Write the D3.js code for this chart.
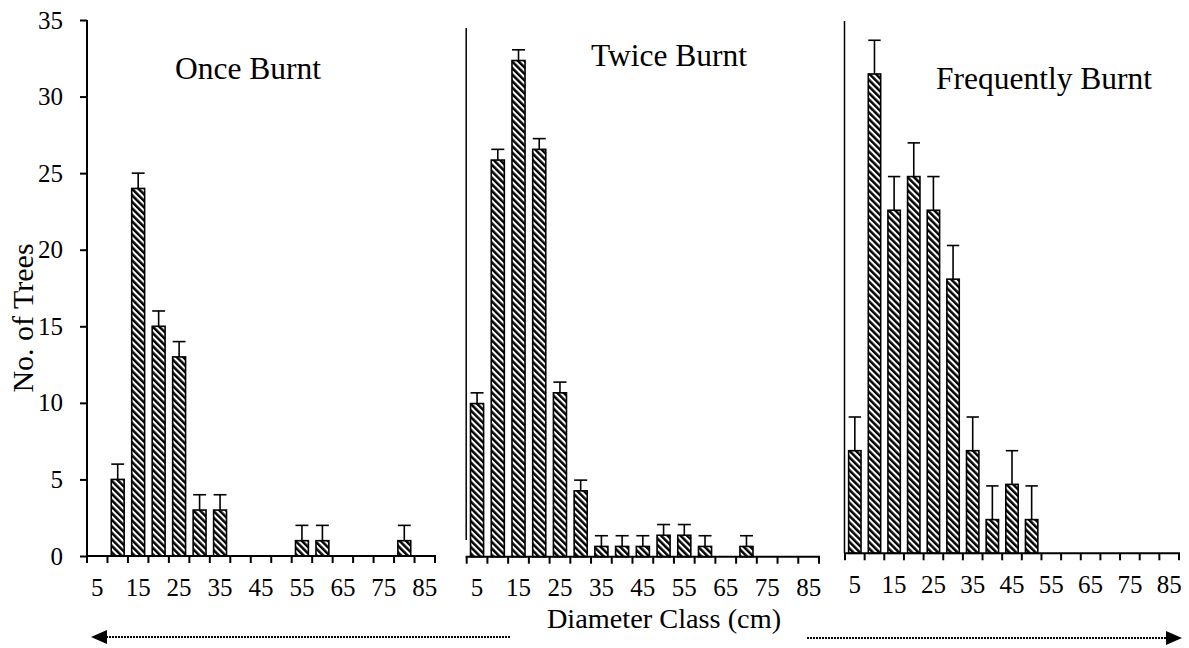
<!DOCTYPE html>
<html lang="en">
<head>
  <meta charset="UTF-8">
  <title>Diameter Class Distribution</title>
  <script src="https://d3js.org/d3.v7.min.js"></script>
  <style>
    body { margin: 0; background: #fff; }
    text { font-family: "Liberation Serif", "Times New Roman", serif; fill: #000; }
    .bar { stroke: #000; stroke-width: 1.6px; }
    .err { stroke: #000; stroke-width: 1.6px; fill: none; }
    .axis-line { stroke: #000; stroke-width: 2px; }
  </style>
</head>
<body>
  <svg width="1189" height="648"></svg>
  <script>
// diameter classes (cm)
const classes = [5, 10, 15, 20, 25, 30, 35, 40, 45, 50, 55, 60, 65, 70, 75, 80, 85];
const tickLabels = [5, 15, 25, 35, 45, 55, 65, 75, 85];
const yTicks = [0, 5, 10, 15, 20, 25, 30, 35];

const onceVals  = [0, 5, 24, 15, 13, 3, 3, 0, 0, 0, 1, 1, 0, 0, 0, 1, 0];
const onceErr   = [0, 1, 1, 1, 1, 1, 1, 0, 0, 0, 1, 1, 0, 0, 0, 1, 0];
const twiceVals = [10, 25.9, 32.4, 26.6, 10.7, 4.3, 0.67, 0.67, 0.67, 1.4, 1.4, 0.67, 0, 0.67, 0, 0, 0];
const twiceErr  = [0.7, 0.7, 0.7, 0.7, 0.7, 0.7, 0.7, 0.7, 0.7, 0.7, 0.7, 0.7, 0, 0.7, 0, 0, 0];
const freqVals  = [6.7, 31.3, 22.4, 24.6, 22.4, 17.9, 6.7, 2.2, 4.5, 2.2, 0, 0, 0, 0, 0, 0, 0];
const freqErr   = [2.2, 2.2, 2.2, 2.2, 2.2, 2.2, 2.2, 2.2, 2.2, 2.2, 0, 0, 0, 0, 0, 0, 0];

const titles = ["Once Burnt", "Twice Burnt", "Frequently Burnt"];

const svg = d3.select("svg");

// diagonal hatch
const defs = svg.append("defs");
const pat = defs.append("pattern")
  .attr("id", "hatch")
  .attr("patternUnits", "userSpaceOnUse")
  .attr("width", 4.6)
  .attr("height", 4.6)
  .attr("patternTransform", "rotate(-45)");
pat.append("rect").attr("width", 4.6).attr("height", 4.6).attr("fill", "#fff");
pat.append("rect").attr("width", 2.5).attr("height", 4.6).attr("fill", "#000");

const unit = 536 / 35;

const panels = [
  { vals: onceVals, err: onceErr, x0: 87, x1: 435, base: 556, yAxis: true,
    title: titles[0], tx: 248, ty: 79 },
  { vals: twiceVals, err: twiceErr, x0: 466.7, x1: 819, base: 556.7, vline: [28, 540],
    title: titles[1], tx: 669, ty: 66 },
  { vals: freqVals, err: freqErr, x0: 845, x1: 1179, base: 553.3, vline: [21, 553.3],
    title: titles[2], tx: 1044, ty: 89 }
];

panels.forEach(p => {
  const g = svg.append("g");
  const x = d3.scaleBand().domain(classes).range([p.x0, p.x1]);
  const y = d3.scaleLinear().domain([0, 35]).range([p.base, p.base - 35 * unit]);
  const bw = x.bandwidth() * 0.63;

  const data = classes.map((c, i) => ({ c, v: p.vals[i], e: p.err[i] })).filter(d => d.v > 0);

  g.selectAll(".bar").data(data).enter().append("rect")
    .attr("class", "bar")
    .attr("fill", "url(#hatch)")
    .attr("x", d => x(d.c) + (x.bandwidth() - bw) / 2)
    .attr("width", bw)
    .attr("y", d => y(d.v))
    .attr("height", d => y(0) - y(d.v));

  const eg = g.selectAll(".errg").data(data).enter().append("g");
  eg.append("line").attr("class", "err")
    .attr("x1", d => x(d.c) + x.bandwidth() / 2)
    .attr("x2", d => x(d.c) + x.bandwidth() / 2)
    .attr("y1", d => y(d.v))
    .attr("y2", d => y(d.v + d.e));
  eg.append("line").attr("class", "err")
    .attr("x1", d => x(d.c) + (x.bandwidth() - bw) / 2)
    .attr("x2", d => x(d.c) + (x.bandwidth() + bw) / 2)
    .attr("y1", d => y(d.v + d.e))
    .attr("y2", d => y(d.v + d.e));

  // x axis: labels at band centres, ticks at band edges
  const xa = g.append("g")
    .attr("transform", `translate(0,${p.base})`)
    .call(d3.axisBottom(x).tickValues(tickLabels).tickSize(0).tickPadding(22));
  xa.select(".domain").remove();
  xa.selectAll("text").style("font-size", "25px").style("font-family", "Liberation Serif, Times New Roman, serif");

  const edges = classes.map(c => x(c)).concat([p.x1]);
  g.selectAll(".xt").data(edges).enter().append("line")
    .attr("class", "axis-line")
    .attr("x1", d => d).attr("x2", d => d)
    .attr("y1", p.base).attr("y2", p.base + 7);
  g.append("line").attr("class", "axis-line")
    .attr("x1", p.x0 - 1).attr("x2", p.x1 + 1)
    .attr("y1", p.base).attr("y2", p.base);

  if (p.yAxis) {
    const ya = g.append("g")
      .attr("transform", `translate(${p.x0},0)`)
      .call(d3.axisLeft(y).tickValues(yTicks).tickSize(7).tickPadding(17));
    ya.select(".domain").attr("stroke-width", 2).attr("d", `M0,${y(35)}V${y(0)}`);
    ya.selectAll(".tick line").attr("stroke-width", 2);
    ya.selectAll("text").style("font-size", "25px").style("font-family", "Liberation Serif, Times New Roman, serif");
  }
  if (p.vline) {
    g.append("line")
      .attr("stroke", "#000").attr("stroke-width", 1.5)
      .attr("x1", p.x0 - 0.5).attr("x2", p.x0 - 0.5)
      .attr("y1", p.vline[0]).attr("y2", p.vline[1]);
  }

  g.append("text")
    .attr("x", p.tx).attr("y", p.ty)
    .attr("text-anchor", "middle")
    .style("font-size", "31.5px")
    .text(p.title);
});

// axis titles
svg.append("text")
  .attr("transform", "translate(33,318) rotate(-90)")
  .attr("text-anchor", "middle")
  .style("font-size", "30px")
  .text("No. of Trees");

svg.append("text")
  .attr("x", 664).attr("y", 628)
  .attr("text-anchor", "middle")
  .style("font-size", "28.3px")
  .text("Diameter Class (cm)");

// dotted arrows
defs.append("marker")
  .attr("id", "head")
  .attr("viewBox", "0 0 16 14")
  .attr("refX", 0).attr("refY", 7)
  .attr("markerWidth", 16).attr("markerHeight", 14)
  .attr("markerUnits", "userSpaceOnUse")
  .attr("orient", "auto")
  .append("path").attr("d", "M0,0L16,7L0,14Z").attr("fill", "#000");

const arrows = [
  { from: 510, to: 107, y: 637 },
  { from: 807, to: 1166, y: 638 }
];
svg.selectAll(".arrow").data(arrows).enter().append("line")
  .attr("x1", d => d.from).attr("x2", d => d.to)
  .attr("y1", d => d.y).attr("y2", d => d.y)
  .attr("stroke", "#000").attr("stroke-width", 2.2)
  .attr("stroke-dasharray", "2,1")
  .attr("marker-end", "url(#head)");
  </script>
</body>
</html>
